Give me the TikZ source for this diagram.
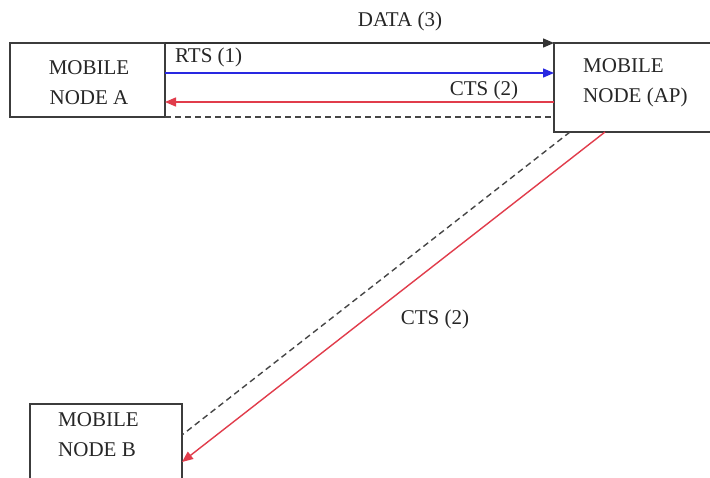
\documentclass[tikz,border=0pt]{standalone}
\usepackage{fontspec}
\newfontfamily\tnr{Liberation Serif}
\usetikzlibrary{arrows.meta}
\definecolor{boxgray}{RGB}{60,60,60}
\definecolor{rtsblue}{RGB}{40,40,225}
\definecolor{ctsred}{RGB}{225,60,75}
\definecolor{dashgray}{RGB}{70,70,70}
\tikzset{
  box/.style={draw=boxgray, line width=1.6pt, rectangle, anchor=north west, inner sep=0pt, outer sep=0pt},
  lbl/.style={font=\tnr\fontsize{21}{30}\selectfont, text=black!85, inner sep=0pt},
  tip/.style={-{Triangle[length=11pt,width=9pt]}},
  datal/.style={tip, draw=black!80, line width=1.4pt},
  rtsl/.style={tip, draw=rtsblue, line width=1.4pt},
  ctsl/.style={tip, draw=ctsred, line width=1.4pt},
  dashl/.style={draw=dashgray, line width=1.4pt, dash pattern=on 6pt off 4pt}
}
\begin{document}
\begin{tikzpicture}[x=1pt,y=-1pt]
\useasboundingbox (0,0) rectangle (710,477);
\clip (0,0) rectangle (710,477);
\fill[white] (0,0) rectangle (710,477);
\node[box, minimum width=155pt, minimum height=74pt] (A) at (10,43) {};
\node[box, minimum width=170pt, minimum height=89pt] (AP) at (554,43) {};
\node[box, minimum width=152pt, minimum height=90pt] (B) at (30,404) {};
\node[lbl, align=center] (tA) at (89,83) {MOBILE\\NODE A};
\node[lbl, align=left, anchor=west] (tAP) at (583,83) {MOBILE\\NODE (AP)};
\node[lbl, align=left, anchor=west] (tB) at (58,435) {MOBILE\\NODE B};
\draw[datal] (A.north east) -- (AP.north west);
\draw[rtsl] ([yshift=-30pt]A.north east) -- ([yshift=-30pt]AP.north west);
\draw[ctsl] ([yshift=-59pt]AP.north west) -- ([yshift=-59pt]A.north east);
\draw[dashl] (A.south east) -- ([yshift=-74pt]AP.north west);
\draw[dashl] ([xshift=16pt]AP.south west) -- ([yshift=-31pt]B.north east);
\draw[ctsl] ([xshift=51pt]AP.south west) -- ([yshift=-58pt]B.north east);
\node[lbl] (ldata) at (400,21) {DATA (3)};
\node[lbl, anchor=west] (lrts) at (175,57) {RTS (1)};
\node[lbl] (lcts1) at (484,90) {CTS (2)};
\node[lbl] (lcts2) at (435,319) {CTS (2)};
\end{tikzpicture}
\end{document}
